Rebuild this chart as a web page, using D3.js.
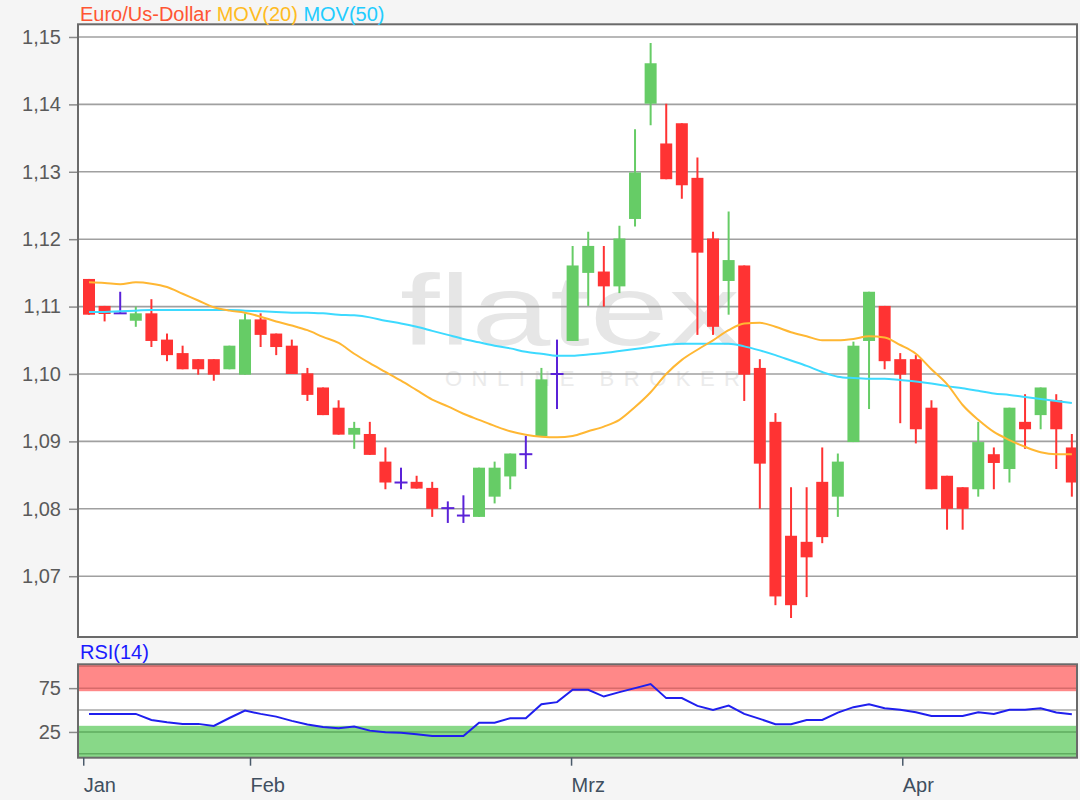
<!DOCTYPE html>
<html><head><meta charset="utf-8">
<script src="https://cdn.jsdelivr.net/npm/d3@7"></script>
<style>
html,body{margin:0;padding:0;background:#f5f5f5;}
svg{display:block;font-family:"Liberation Sans",Arial,sans-serif;}
</style></head><body>
<svg id="chart" width="1080" height="800"></svg>
<script>
// ---- data ----
const open  = [1.1141,1.1101,1.1090,1.1079,1.1090,1.1051,1.1031,1.1022,1.1022,1.1007,1.0999,1.1081,1.1060,1.1042,1.1001,1.0980,1.0950,1.0910,1.0911,1.0870,1.0839,1.0840,1.0831,1.0801,1.0790,1.0788,1.0818,1.0848,1.0881,1.0908,1.1000,1.1049,1.1150,1.1152,1.1130,1.1230,1.1401,1.1342,1.1372,1.1291,1.1201,1.1138,1.1161,1.1009,1.0929,1.0760,1.0751,1.0840,1.0818,1.0899,1.1049,1.1101,1.1022,1.1022,1.0950,1.0849,1.0832,1.0829,1.0881,1.0859,1.0929,1.0939,1.0961,1.0891];
const high  = [1.1141,1.1101,1.1122,1.1100,1.1111,1.1060,1.1042,1.1022,1.1022,1.1042,1.1090,1.1090,1.1060,1.1051,1.1009,1.0980,1.0961,1.0929,1.0929,1.0891,1.0861,1.0849,1.0840,1.0811,1.0820,1.0861,1.0870,1.0882,1.0908,1.1009,1.1051,1.1190,1.1211,1.1190,1.1220,1.1363,1.1491,1.1401,1.1372,1.1321,1.1211,1.1241,1.1161,1.1022,1.0942,1.0832,1.0832,1.0891,1.0882,1.1048,1.1122,1.1101,1.1031,1.1028,1.0961,1.0849,1.0832,1.0929,1.0891,1.0950,1.0970,1.0980,1.0970,1.0911];
const low   = [1.1088,1.1078,1.1090,1.1070,1.1040,1.1019,1.1007,1.0999,1.0990,1.1007,1.0999,1.1040,1.1028,1.1000,1.0960,1.0939,1.0910,1.0889,1.0880,1.0829,1.0829,1.0830,1.0788,1.0779,1.0779,1.0788,1.0808,1.0829,1.0859,1.0908,1.0948,1.1049,1.1101,1.1100,1.1120,1.1219,1.1369,1.1289,1.1260,1.1058,1.1058,1.1088,1.0960,1.0800,1.0657,1.0638,1.0669,1.0749,1.0788,1.0899,1.0948,1.1007,1.0927,1.0897,1.0829,1.0769,1.0769,1.0818,1.0829,1.0839,1.0889,1.0918,1.0859,1.0818];
const close = [1.1088,1.1089,1.1090,1.1090,1.1049,1.1028,1.1007,1.1007,1.0999,1.1042,1.1081,1.1058,1.1040,1.1000,1.0969,1.0939,1.0910,1.0920,1.0880,1.0839,1.0839,1.0830,1.0800,1.0801,1.0790,1.0861,1.0861,1.0882,1.0881,1.0992,1.1000,1.1161,1.1190,1.1130,1.1201,1.1299,1.1461,1.1289,1.1280,1.1180,1.1070,1.1169,1.0999,1.0867,1.0670,1.0657,1.0728,1.0758,1.0870,1.1042,1.1122,1.1019,1.0999,1.0918,1.0829,1.0800,1.0800,1.0899,1.0868,1.0950,1.0918,1.0980,1.0918,1.0839];
const mov20 = [1.1136,1.1135,1.1133,1.1136,1.1134,1.1129,1.1119,1.1109,1.1099,1.1094,1.1091,1.1085,1.1078,1.1072,1.1065,1.1055,1.1046,1.1030,1.1016,1.1003,1.0990,1.0976,1.0962,1.0952,1.0941,1.0932,1.0923,1.0915,1.0910,1.0907,1.0906,1.0908,1.0915,1.0922,1.0932,1.0951,1.0973,1.1000,1.1021,1.1036,1.1050,1.1065,1.1075,1.1076,1.1070,1.1062,1.1056,1.1050,1.1050,1.1052,1.1056,1.1054,1.1043,1.1030,1.1007,1.0985,1.0954,1.0932,1.0914,1.0902,1.0892,1.0884,1.0881,1.0881];
const mov50 = [1.1092,1.1092,1.1093,1.1094,1.1095,1.1095,1.1095,1.1095,1.1095,1.1095,1.1094,1.1093,1.1092,1.1091,1.1091,1.1090,1.1088,1.1087,1.1084,1.1079,1.1075,1.1070,1.1064,1.1058,1.1052,1.1047,1.1042,1.1038,1.1033,1.1030,1.1027,1.1027,1.1029,1.1031,1.1034,1.1037,1.1040,1.1043,1.1045,1.1045,1.1045,1.1045,1.1041,1.1035,1.1028,1.1020,1.1012,1.1003,1.0996,1.0994,1.0993,1.0993,1.0991,1.0989,1.0986,1.0982,1.0979,1.0975,1.0971,1.0969,1.0966,1.0963,1.0960,1.0957];
const rsi14 = [45.6,45.6,45.6,45.6,38.7,36.1,34.2,34.2,31.9,40.9,49.4,45.6,42.5,37.6,33.6,30.7,29.2,31.1,26.5,24.7,24.2,22.3,20.4,20.4,20.4,35.6,35.6,40.7,40.7,56.7,59.0,73.1,73.1,65.4,70.4,75.0,79.6,63.6,63.6,54.7,50.2,55.1,45.6,39.9,33.8,33.8,38.7,38.7,47.1,53.3,56.7,52.1,50.2,47.5,43.3,43.3,43.3,47.5,45.6,50.2,50.2,52.1,47.1,45.3];
const priceTicks = [1.07,1.08,1.09,1.10,1.11,1.12,1.13,1.14,1.15];
const rsiTicks = [25,75];
const rsiGrid = [50];
const rsiBandLines = [0,25,75,100];
const monthLabels = ["Jan","Feb","Mrz","Apr"];
const monthAt = [-0.37,10.32,30.9,52.13];   // position on the trading-day index
const legendTexts = ["Euro/Us-Dollar","MOV(20)","MOV(50)"];

// ---- layout ----
const W=1080,H=800;
const L=78,R=1077,T=24.3,B=637,RT=664.3,RB=757.7;
const svg=d3.select('#chart');
const x=d3.scaleLinear().domain([-0.705,63.33]).range([L,R]);
const y=d3.scaleLinear().domain([1.06098,1.15188]).range([B,T]);
const yr=d3.scaleLinear().domain([-4.4,102.2]).range([RB,RT]);
const idx=d3.range(close.length);

svg.append('rect').attr('width',W).attr('height',H).attr('fill','#f5f5f5');
svg.append('rect').attr('x',L).attr('y',T).attr('width',R-L).attr('height',B-T).attr('fill','#fff');

const defs=svg.append('defs');
defs.append('clipPath').attr('id','clipMain').append('rect').attr('x',L).attr('y',T).attr('width',R-L).attr('height',B-T);
defs.append('clipPath').attr('id','clipRsi').append('rect').attr('x',L).attr('y',RT).attr('width',R-L).attr('height',RB-RT);

// watermark
const wm=svg.append('g').attr('clip-path','url(#clipMain)');
wm.append('text').attr('x',400).attr('y',345).attr('textLength',340).attr('lengthAdjust','spacingAndGlyphs')
  .attr('font-size',100).attr('fill','#e6e6e6').text('flatex');
wm.append('text').attr('x',445).attr('y',386).attr('textLength',295).attr('lengthAdjust','spacing')
  .attr('font-size',22).attr('fill','#ebebeb').text('ONLINE BROKER');

// gridlines
svg.append('g').selectAll('line').data(priceTicks).join('line')
  .attr('x1',L).attr('x2',R).attr('y1',d=>y(d)).attr('y2',d=>y(d))
  .attr('stroke','#a0a0a0').attr('stroke-width',1.6);

// candles
const cg=svg.append('g').attr('clip-path','url(#clipMain)');
const UP='#66cc66',DN='#ff3333',DOJI='#5a22d8';
const col=i=>close[i]>open[i]?UP:(close[i]<open[i]?DN:DOJI);
cg.selectAll('line.wick').data(idx).join('line').attr('class','wick')
  .attr('x1',i=>x(i)).attr('x2',i=>x(i)).attr('y1',i=>y(high[i])).attr('y2',i=>y(low[i]))
  .attr('stroke',col).attr('stroke-width',2);
cg.selectAll('rect.body').data(idx.filter(i=>close[i]!==open[i])).join('rect').attr('class','body')
  .attr('x',i=>x(i)-6).attr('width',12)
  .attr('y',i=>y(Math.max(open[i],close[i])))
  .attr('height',i=>Math.max(1,y(Math.min(open[i],close[i]))-y(Math.max(open[i],close[i]))))
  .attr('fill',col);
cg.selectAll('line.doji').data(idx.filter(i=>close[i]===open[i])).join('line').attr('class','doji')
  .attr('x1',i=>x(i)-6.5).attr('x2',i=>x(i)+6.5).attr('y1',i=>y(close[i])).attr('y2',i=>y(close[i]))
  .attr('stroke',DOJI).attr('stroke-width',2);

// moving averages
const line=d3.line().x((d,i)=>x(i)).y(d=>y(d)).curve(d3.curveMonotoneX);
cg.append('path').datum(mov50).attr('d',line).attr('fill','none').attr('stroke','#3ddaff').attr('stroke-width',2);
cg.append('path').datum(mov20).attr('d',line).attr('fill','none').attr('stroke','#ffb733').attr('stroke-width',2);

// frame main
svg.append('rect').attr('x',L).attr('y',T).attr('width',R-L).attr('height',B-T)
  .attr('fill','none').attr('stroke','#6a6a6a').attr('stroke-width',2);

// y axis
const ya=svg.append('g').attr('transform',`translate(${L-1},0)`)
  .call(d3.axisLeft(y).tickValues(priceTicks).tickSize(8).tickPadding(8).tickFormat(d=>d.toFixed(2).replace('.',',')));
ya.select('.domain').remove();
ya.selectAll('line').attr('stroke','#8a8a8a').attr('stroke-width',1.5);
ya.selectAll('text').attr('font-size',20).attr('fill','#5a5a5a').attr('font-family','"Liberation Sans",Arial,sans-serif');

// legend
const lg=svg.append('text').attr('x',80).attr('y',20.5).attr('font-size',20);
const legendColors=['#ff5533','#ffbb22','#22ccff'];
legendTexts.forEach((t,k)=>lg.append('tspan').attr('fill',legendColors[k]).text((k?' ':'')+t));

// ---- RSI panel ----
svg.append('rect').attr('x',L).attr('y',RT).attr('width',R-L).attr('height',RB-RT).attr('fill','#fff');
const rg=svg.append('g').attr('clip-path','url(#clipRsi)');
rg.append('rect').attr('x',L).attr('width',R-L).attr('y',yr(102.2)).attr('height',yr(71.5)-yr(102.2)).attr('fill','#ff8888');
rg.append('rect').attr('x',L).attr('width',R-L).attr('y',yr(32)).attr('height',yr(-4.4)-yr(32)).attr('fill','#88d888');
rg.selectAll('line.band').data(rsiBandLines).join('line').attr('class','band')
  .attr('x1',L).attr('x2',R).attr('y1',d=>yr(d)).attr('y2',d=>yr(d))
  .attr('stroke',d=>d>50?'#d86a6a':'#5fac5f').attr('stroke-width',1.5);
rg.selectAll('line.grid').data(rsiGrid).join('line').attr('class','grid')
  .attr('x1',L).attr('x2',R).attr('y1',d=>yr(d)).attr('y2',d=>yr(d))
  .attr('stroke','#a8a8a8').attr('stroke-width',1.5);
const rline=d3.line().x((d,i)=>x(i)).y(d=>yr(d));
rg.append('path').datum(rsi14).attr('d',rline).attr('fill','none').attr('stroke','#1f1fee').attr('stroke-width',2);
svg.append('rect').attr('x',L).attr('y',RT).attr('width',R-L).attr('height',RB-RT)
  .attr('fill','none').attr('stroke','#6a6a6a').attr('stroke-width',2);

const ra=svg.append('g').attr('transform',`translate(${L-1},0)`)
  .call(d3.axisLeft(yr).tickValues(rsiTicks).tickSize(8).tickPadding(8));
ra.select('.domain').remove();
ra.selectAll('line').attr('stroke','#8a8a8a').attr('stroke-width',1.5);
ra.selectAll('text').attr('font-size',20).attr('fill','#5a5a5a').attr('font-family','"Liberation Sans",Arial,sans-serif');

svg.append('text').attr('x',80).attr('y',659).attr('font-size',20).attr('fill','#1a1aff').text('RSI(14)');

// x axis
const xa=svg.append('g').attr('transform',`translate(0,${RB})`)
  .call(d3.axisBottom(x).tickValues(monthAt).tickSize(8).tickFormat((d,k)=>monthLabels[k]));
xa.select('.domain').remove();
xa.selectAll('line').attr('stroke','#4a5a6a').attr('stroke-width',1.5);
xa.selectAll('text').attr('text-anchor','start').attr('y',34).attr('dy',0)
  .attr('font-size',20).attr('fill','#3f4f5f').attr('font-family','"Liberation Sans",Arial,sans-serif');
</script>
</body></html>
